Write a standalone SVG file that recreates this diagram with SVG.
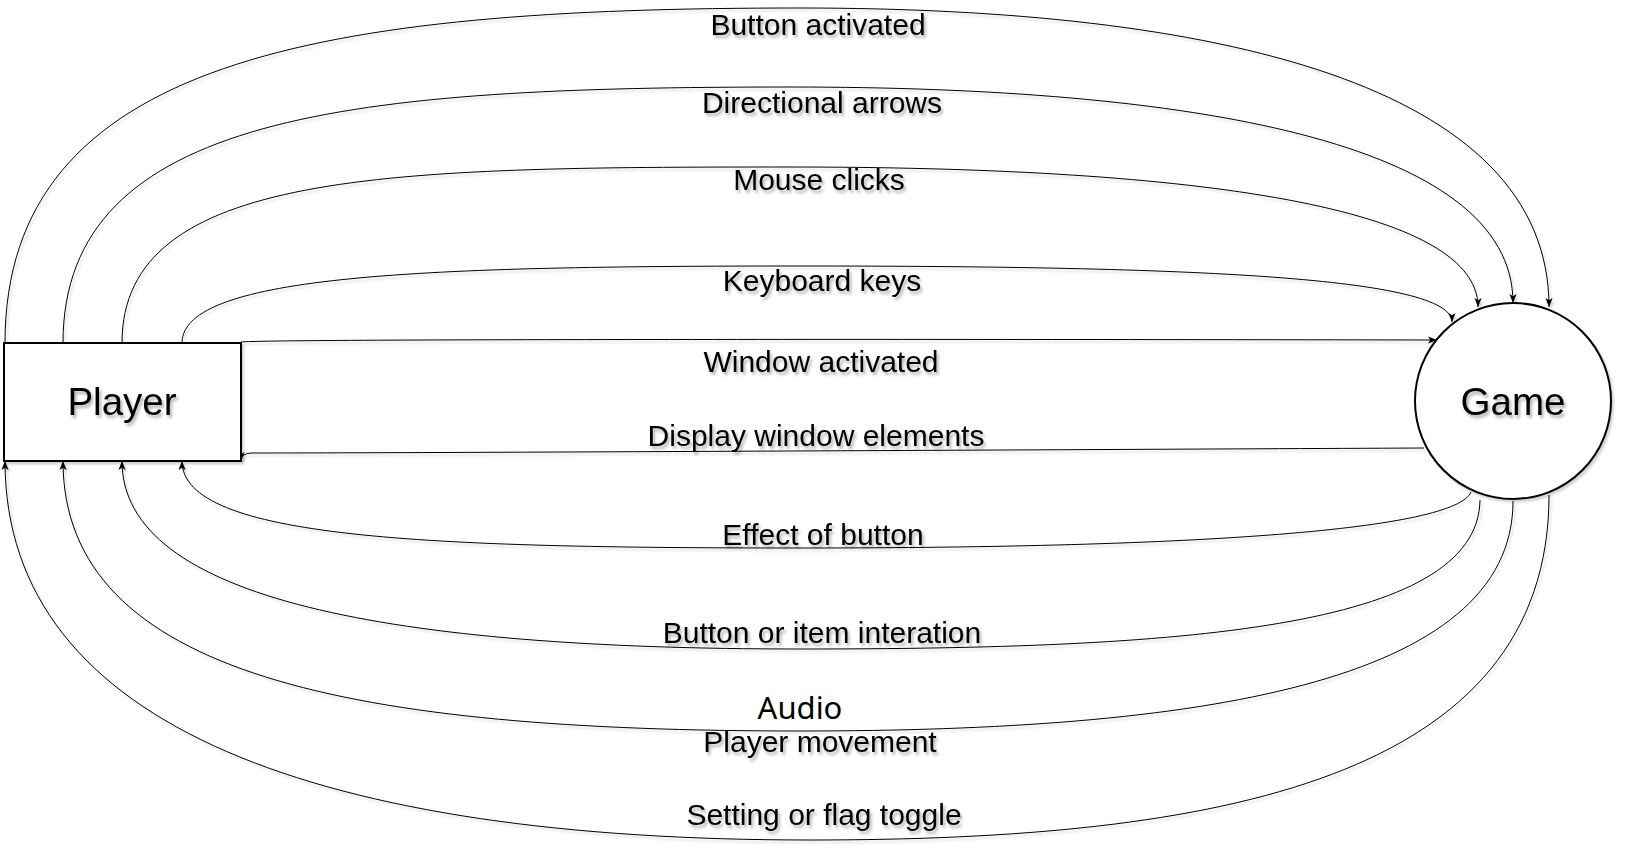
<svg xmlns="http://www.w3.org/2000/svg" width="1646" height="866" viewBox="0 0 1646 866">
  <defs>
    <style>
      .edge { fill: none; stroke: #000; stroke-width: 1; }
      .node { fill: #fff; stroke: #000; stroke-width: 2; }
      .lbl { font-family: "Liberation Sans", Arial, Helvetica, sans-serif; font-size: 30px; fill: #000; text-anchor: middle; }
      .ntext { font-family: "Liberation Sans", Arial, Helvetica, sans-serif; font-size: 38.5px; fill: #000; text-anchor: middle; }
      .audio { font-family: "Noto Sans", "Open Sans", sans-serif; font-size: 31px; fill: #000; text-anchor: middle; }
    </style>
    <filter id="sh" filterUnits="userSpaceOnUse" x="0" y="0" width="1646" height="866">
      <feDropShadow dx="2" dy="3" stdDeviation="1.5" flood-color="#000" flood-opacity="0.3"/>
    </filter>
    <filter id="shl" filterUnits="userSpaceOnUse" x="0" y="0" width="1646" height="866">
      <feDropShadow dx="2" dy="2.5" stdDeviation="1" flood-color="#000" flood-opacity="0.18"/>
    </filter>
    <marker id="arr" viewBox="0 0 10 8" refX="10" refY="4" markerWidth="9" markerHeight="7.2" orient="auto" markerUnits="userSpaceOnUse">
      <path d="M0,0 L10,4 L0,8 L2.5,4 z" fill="#000"/>
    </marker>
  </defs>
  <rect width="1646" height="866" fill="#fff"/>

  <g id="connectors" filter="url(#shl)">
    <path class="edge" marker-end="url(#arr)" d="M5,343 C5,58 323,8 800,8 C1212,8 1549,83 1549,307"/>
    <path class="edge" marker-end="url(#arr)" d="M63,343 C63,113 354,87 790,87 C1188,87 1513,141 1513,303"/>
    <path class="edge" marker-end="url(#arr)" d="M122,343 C122,170 389,167 790,167 C1168,167 1478,202 1478,307"/>
    <path class="edge" marker-end="url(#arr)" d="M182,343 C182,274 429,266 800,266 C1191,266 1452,277 1452,322"/>
    <path class="edge" marker-end="url(#arr)" d="M241,342 C268,339 900,339 1437,340"/>
    <path class="edge" marker-end="url(#arr)" d="M1424,448 C1000,450 400,453 252,453 Q241,453 241,461"/>
    <path class="edge" marker-end="url(#arr)" d="M1471,492 C1455,530 1200,548 800,548 C429,548 182,539 182,461"/>
    <path class="edge" marker-end="url(#arr)" d="M1480,500 C1478,630 1174,649 800,649 C393,649 122,600 122,461"/>
    <path class="edge" marker-end="url(#arr)" d="M1513,501 C1513,685 1192,731 800,731 C358,731 63,677 63,461"/>
    <path class="edge" marker-end="url(#arr)" d="M1549,495 C1549,780 1216,840 810,840 C327,840 5,730 5,461"/>
  </g>

  <g id="labels">
    <text class="lbl" x="818" y="35" filter="url(#sh)">Button activated</text>
    <text class="lbl" x="822" y="113" filter="url(#sh)">Directional arrows</text>
    <text class="lbl" x="819" y="190" filter="url(#sh)">Mouse clicks</text>
    <text class="lbl" x="822" y="291" filter="url(#sh)">Keyboard keys</text>
    <text class="lbl" x="821" y="372" filter="url(#sh)">Window activated</text>
    <text class="lbl" x="816" y="446" filter="url(#sh)">Display window elements</text>
    <text class="lbl" x="823" y="545" filter="url(#sh)">Effect of button</text>
    <text class="lbl" x="822" y="643" filter="url(#sh)">Button or item interation</text>
    <text class="audio" x="800" y="719">Audio</text>
    <text class="lbl" x="820" y="752" filter="url(#sh)">Player movement</text>
    <text class="lbl" x="824" y="825" filter="url(#sh)">Setting or flag toggle</text>
  </g>

  <g id="player">
    <rect class="node" x="4" y="343" width="237" height="118" filter="url(#shl)"/>
    <text class="ntext" x="122" y="415" filter="url(#sh)">Player</text>
  </g>

  <g id="game">
    <circle class="node" cx="1513" cy="401" r="98" filter="url(#shl)"/>
    <text class="ntext" x="1513" y="415" filter="url(#sh)">Game</text>
  </g>
</svg>
